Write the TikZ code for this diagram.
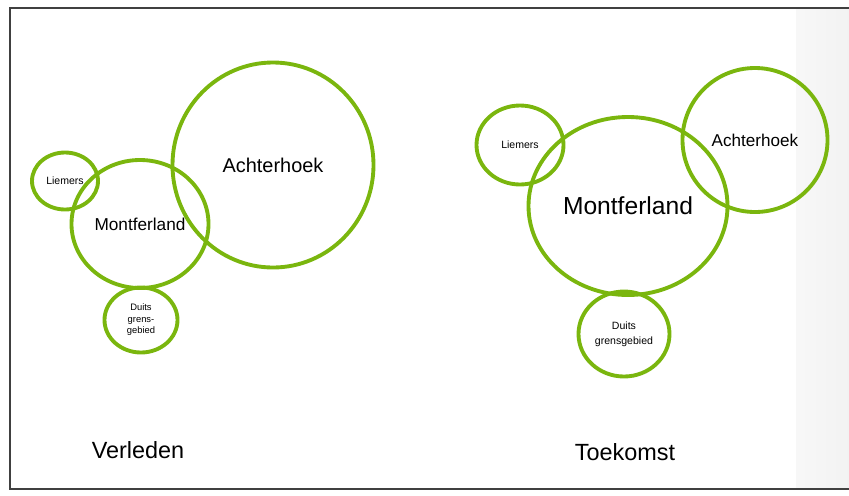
\documentclass[tikz,border=0pt]{standalone}
\usepackage{fontspec}
\setmainfont{Liberation Sans}
\usepackage{tikz}
\usetikzlibrary{shapes.geometric}
\definecolor{regiogroen}{RGB}{122,182,14}

\begin{document}
\begin{tikzpicture}[x=0.03cm,y=-0.03cm,
        regio/.style={draw=regiogroen,line width=3.3pt,ellipse,inner sep=0pt,align=center},
        tijd/.style={font=\fontsize{20}{24}\selectfont}]
    \useasboundingbox (0,0) rectangle (849,495);
    % grijze rand rechts
    \fill[left color=black!3,right color=black!5] (796,8) rectangle (849,489);
    \draw[line width=0.9pt,black!75] (849,8) -- (10,8) -- (10,489) -- (849,489);

    % verleden
    \begin{scope}
        \node[regio,minimum width=1.98cm,minimum height=1.71cm,font=\fontsize{9}{10}\selectfont] (lieV) at (65,181) {Liemers};
        \node[regio,minimum width=4.11cm,minimum height=3.84cm,font=\fontsize{14.7}{17}\selectfont] (mfV) at (140,224) {Montferland};
        \node[regio,minimum width=6.03cm,minimum height=6.15cm,font=\fontsize{17}{20}\selectfont] (ahV) at (273,165) {Achterhoek};
        \node[regio,minimum width=2.19cm,minimum height=1.95cm,font=\fontsize{8}{9.8}\selectfont] (dgV) at (141,320) {Duits\\grens-\\gebied};
        \node[tijd] (verleden) at (138,450) {Verleden};
    \end{scope}

    % toekomst
    \begin{scope}
        \node[regio,minimum width=2.61cm,minimum height=2.37cm,font=\fontsize{9}{10}\selectfont] (lieT) at (520,145) {Liemers};
        \node[regio,minimum width=5.97cm,minimum height=5.34cm,font=\fontsize{21}{24}\selectfont] (mfT) at (628,206) {Montferland};
        \node[regio,minimum width=4.35cm,minimum height=4.32cm,font=\fontsize{14.6}{17}\selectfont] (ahT) at (755,140) {Achterhoek};
        \node[regio,minimum width=2.73cm,minimum height=2.55cm,font=\fontsize{9}{12.5}\selectfont] (dgT) at (624,334) {Duits\\grensgebied};
        \node[tijd] (toekomst) at (625,452) {Toekomst};
    \end{scope}
\end{tikzpicture}
\end{document}
